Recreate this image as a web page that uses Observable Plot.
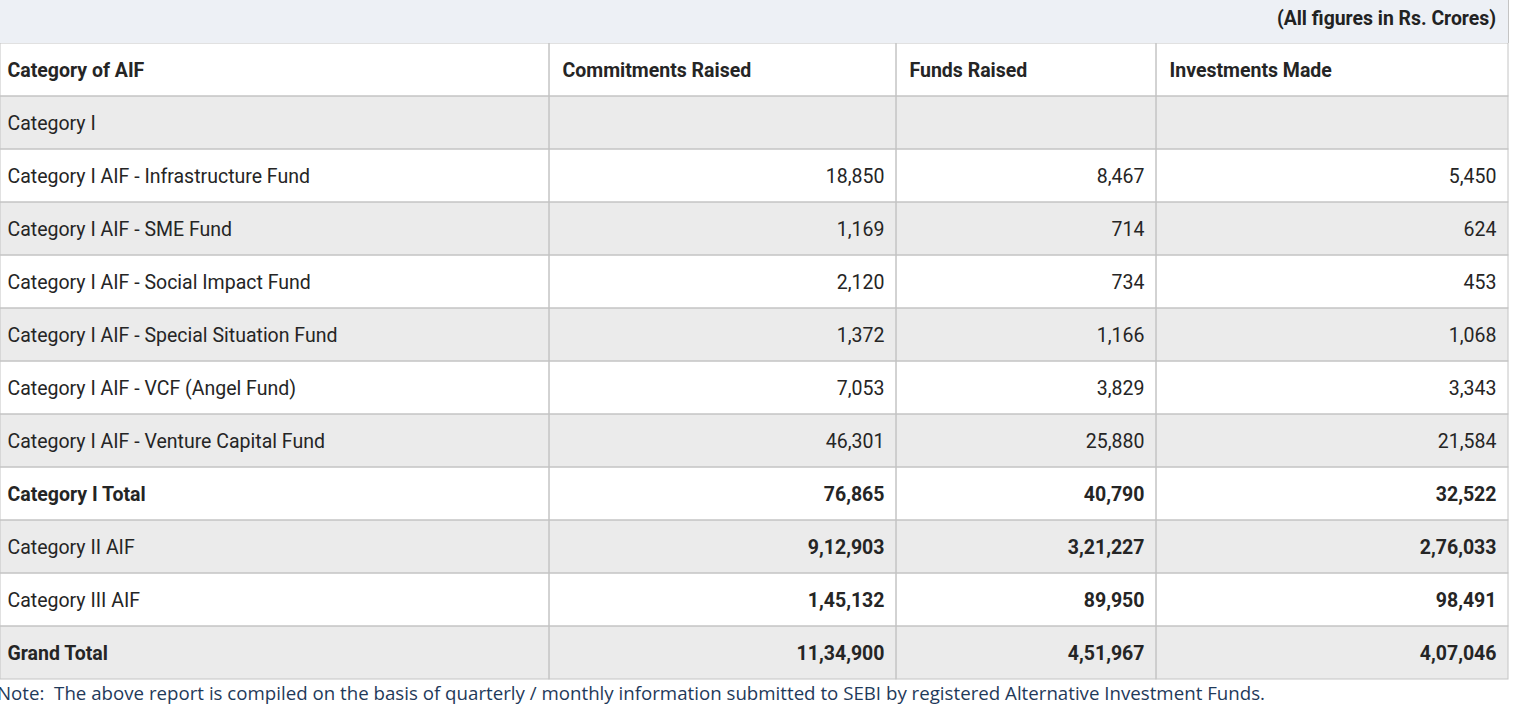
<!DOCTYPE html>
<html>
<head>
<meta charset="utf-8">
<script src="https://cdn.jsdelivr.net/npm/d3@7"></script>
<script src="https://cdn.jsdelivr.net/npm/@observablehq/plot@0.6"></script>
<style>
  body { margin: 0; background: #fff; }
  #top { position: relative; width: 1508px; height: 43px; background: #edf0f5; border-right: 1px solid #c4c4c4; font-family: Roboto, sans-serif; font-weight: 700; font-size: 19.4px; color: #222; }
  #top span { position: absolute; right: 12px; top: 7px; }
  #chart svg { display: block; }
  #note { font-family: "Open Sans", sans-serif; font-size: 18.7px; line-height: 24px; color: #1f3a5a; margin-left: -3px; margin-top: 1px; white-space: nowrap; }
</style>
</head>
<body>
<div id="top"><span>(All figures in Rs. Crores)</span></div>
<div id="chart"></div>
<div id="note">Note:&nbsp; The above report is compiled on the basis of quarterly / monthly information submitted to SEBI by registered Alternative Investment Funds.</div>
<script>
// ---- data ----
const headers = ["Category of AIF", "Commitments Raised", "Funds Raised", "Investments Made"];
const categories = [
  "Category I",
  "Category I AIF - Infrastructure Fund",
  "Category I AIF - SME Fund",
  "Category I AIF - Social Impact Fund",
  "Category I AIF - Special Situation Fund",
  "Category I AIF - VCF (Angel Fund)",
  "Category I AIF - Venture Capital Fund",
  "Category I Total",
  "Category II AIF",
  "Category III AIF",
  "Grand Total"
];
const commitmentsRaised = [null, 18850, 1169, 2120, 1372, 7053, 46301, 76865, 912903, 145132, 1134900];
const fundsRaised       = [null, 8467, 714, 734, 1166, 3829, 25880, 40790, 321227, 89950, 451967];
const investmentsMade   = [null, 5450, 624, 453, 1068, 3343, 21584, 32522, 276033, 98491, 407046];
const boldLabels = ["Category I Total", "Grand Total"];
const boldValues = ["Category I Total", "Category II AIF", "Category III AIF", "Grand Total"];

// ---- layout ----
const colEdges = [0, 549, 896, 1156, 1508];
const series = [commitmentsRaised, fundsRaised, investmentsMade];

function fmtIN(v) {
  if (v == null) return "";
  const s = String(Math.round(v));
  if (s.length <= 3) return s;
  const last3 = s.slice(-3);
  let rest = s.slice(0, -3);
  const parts = [];
  while (rest.length > 2) { parts.unshift(rest.slice(-2)); rest = rest.slice(0, -2); }
  if (rest) parts.unshift(rest);
  return parts.join(",") + "," + last3;
}

const rowKeys = ["__header", ...categories];
const rows = rowKeys.map((k, i) => ({key: k, i}));
const cells = [];
rows.forEach(r => { for (let c = 0; c < 4; c++) cells.push({key: r.key, i: r.i, c}); });

const values = [];
categories.forEach((name, ri) => {
  series.forEach((arr, c) => {
    values.push({key: name, c: c + 1, text: fmtIN(arr[ri]), bold: boldValues.includes(name)});
  });
});
const headerCells = headers.map((h, c) => ({key: "__header", c, text: h}));

const plot = Plot.plot({
  width: 1531,
  height: 637,
  margin: 0,
  x: {domain: [0, 1531], range: [0, 1531], axis: null},
  y: {type: "band", domain: rowKeys, range: [0, 636], padding: 0, round: true, axis: null},
  style: {fontFamily: "Roboto, sans-serif", fontSize: "19.5px", color: "#252525", background: "transparent"},
  marks: [
    Plot.barX(rows, {x1: 0, x2: 1508, y: "key", fill: d => d.i % 2 === 1 ? "#ebebeb" : "#ffffff", inset: 0}),
    Plot.barX(cells, {x1: d => colEdges[d.c], x2: d => colEdges[d.c + 1], y: "key", fill: "none", stroke: "#c4c4c4", strokeWidth: 1, inset: 0}),
    Plot.text(headerCells, {x: d => d.c === 0 ? 7 : colEdges[d.c] + 13, y: "key", text: "text", textAnchor: "start", fontWeight: 700, dy: 1}),
    Plot.text(categories.filter(n => !boldLabels.includes(n)), {x: 7, y: d => d, text: d => d, textAnchor: "start", dy: 1}),
    Plot.text(categories.filter(n => boldLabels.includes(n)), {x: 7, y: d => d, text: d => d, textAnchor: "start", fontWeight: 700, dy: 1}),
    Plot.text(values.filter(d => !d.bold), {x: d => colEdges[d.c + 1] - 12, y: "key", text: "text", textAnchor: "end", dy: 1}),
    Plot.text(values.filter(d => d.bold), {x: d => colEdges[d.c + 1] - 12, y: "key", text: "text", textAnchor: "end", fontWeight: 700, dy: 1})
  ]
});
document.getElementById("chart").append(plot);
</script>
</body>
</html>
